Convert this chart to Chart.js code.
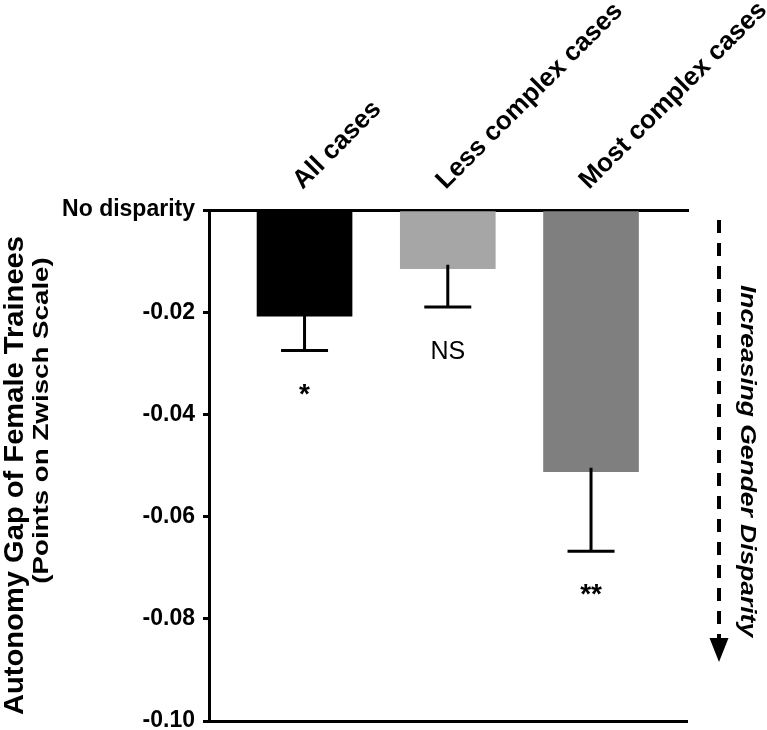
<!DOCTYPE html>
<html><head><meta charset="utf-8">
<script src="https://cdn.jsdelivr.net/npm/chart.js@4"></script>
<style>html,body{margin:0;padding:0;background:#fff}#wrap{width:767px;height:730px}</style>
</head><body><div id="wrap"><canvas id="c" width="767" height="730"></canvas></div>
<script>
const categories = ['All cases', 'Less complex cases', 'Most complex cases'];
const gapValues = [-0.0208, -0.0115, -0.0512];
const errorLow = [-0.0275, -0.0190, -0.0668];
const significance = ['*', 'NS', '**'];
const yTicks = [0, -0.02, -0.04, -0.06, -0.08, -0.10];
const zeroLabel = 'No disparity';
const barColors = ['#000000', '#a6a6a6', '#7f7f7f'];
const yTitle = 'Autonomy Gap of Female Trainees';
const ySubtitle = '(Points on Zwisch Scale)';
const arrowLabel = 'Increasing Gender Disparity';

const FONT = '"Liberation Sans", Arial, sans-serif';
Chart.defaults.font.family = FONT;
Chart.defaults.color = '#000';

function rotatedText(ctx, text, x, y, angle, font, stretch) {
  ctx.save();
  ctx.translate(x, y);
  ctx.rotate(angle);
  ctx.scale(stretch, 1);
  ctx.font = font;
  ctx.fillText(text, 0, 0);
  ctx.restore();
}

const extras = {
  id: 'extras',
  afterDatasetsDraw(chart) {
    const ctx = chart.ctx;
    const xs = chart.scales.x, ys = chart.scales.y;
    const ca = chart.chartArea;
    ctx.save();
    // error bars
    ctx.strokeStyle = '#000';
    ctx.lineWidth = 3;
    ctx.lineCap = 'butt';
    categories.forEach((c, i) => {
      const x = xs.getPixelForValue(i);
      const y1 = ys.getPixelForValue(gapValues[i]) - 4;
      const y2 = ys.getPixelForValue(errorLow[i]);
      ctx.beginPath();
      ctx.moveTo(x, y1); ctx.lineTo(x, y2);
      ctx.moveTo(x - 23.5, y2); ctx.lineTo(x + 23.5, y2);
      ctx.stroke();
      ctx.fillStyle = '#000';
      ctx.textAlign = 'center';
      ctx.textBaseline = 'alphabetic';
      const s = significance[i];
      ctx.font = (s === 'NS' ? '25px ' : 'bold 28px ') + FONT;
      ctx.fillText(s, x, y2 + 52);
    });
    // y titles
    ctx.fillStyle = '#000';
    ctx.textAlign = 'center';
    ctx.textBaseline = 'middle';
    const yc = (ca.top + ca.bottom) / 2;
    rotatedText(ctx, yTitle, 15, yc + 10, -Math.PI / 2, 'bold 28px ' + FONT, 1.04);
    rotatedText(ctx, ySubtitle, 42, yc - 45, -Math.PI / 2, 'bold 22px ' + FONT, 1.26);
    // arrow
    const ax = ca.right + 31;
    ctx.strokeStyle = '#000';
    ctx.lineWidth = 4;
    ctx.setLineDash([13, 10]);
    ctx.beginPath();
    ctx.moveTo(ax, ca.top + 10);
    ctx.lineTo(ax, ca.top + 428);
    ctx.stroke();
    ctx.setLineDash([]);
    ctx.beginPath();
    ctx.moveTo(ax - 9.5, ca.top + 428);
    ctx.lineTo(ax + 9.5, ca.top + 428);
    ctx.lineTo(ax, ca.top + 452);
    ctx.closePath();
    ctx.fill();
    rotatedText(ctx, arrowLabel, ax + 28, ca.top + 251, Math.PI / 2, 'italic bold 22px ' + FONT, 1.2);
    ctx.restore();
  }
};

new Chart(document.getElementById('c'), {
  type: 'bar',
  data: {
    datasets: [{
      data: categories.map((c, i) => ({ x: i, y: gapValues[i] })),
      backgroundColor: barColors,
      borderWidth: 0,
      barThickness: 95
    }]
  },
  options: {
    responsive: false,
    animation: false,
    devicePixelRatio: 1,
    layout: { padding: { left: 0, top: 0, right: 79, bottom: 9 } },
    plugins: { legend: { display: false }, tooltip: { enabled: false } },
    scales: {
      x: {
        type: 'linear',
        position: 'top',
        offset: false,
        min: -0.667,
        max: 2.677,
        afterBuildTicks: s => { s.ticks = categories.map((c, i) => ({ value: i })); },
        afterFit: s => { s.height = 210; s.paddingLeft = 0; s.paddingRight = 0; },
        ticks: {
          callback: v => categories[v],
          font: { size: 26, weight: 'bold' },
          minRotation: 45, maxRotation: 45,
          autoSkip: false,
          padding: 14,
          labelOffset: 15
        },
        grid: { display: false, drawTicks: false },
        border: { display: true, color: '#000', width: 3 }
      },
      y: {
        type: 'linear',
        min: -0.10,
        max: 0,
        afterBuildTicks: s => { s.ticks = yTicks.map(v => ({ value: v })); },
        afterFit: s => { s.width = 209; s.paddingTop = 0; s.paddingBottom = 0; },
        ticks: {
          callback: v => v === 0 ? zeroLabel : v.toFixed(2),
          font: { size: 23, weight: 'bold' },
          padding: 8
        },
        grid: {
          drawOnChartArea: true,
          color: c => (c.index === yTicks.length - 1 ? '#000' : 'rgba(0,0,0,0)'),
          lineWidth: 3,
          tickColor: '#000',
          tickLength: 6,
          tickWidth: 3
        },
        border: { display: true, color: '#000', width: 3 }
      }
    }
  },
  plugins: [extras]
});
</script>
</body></html>
